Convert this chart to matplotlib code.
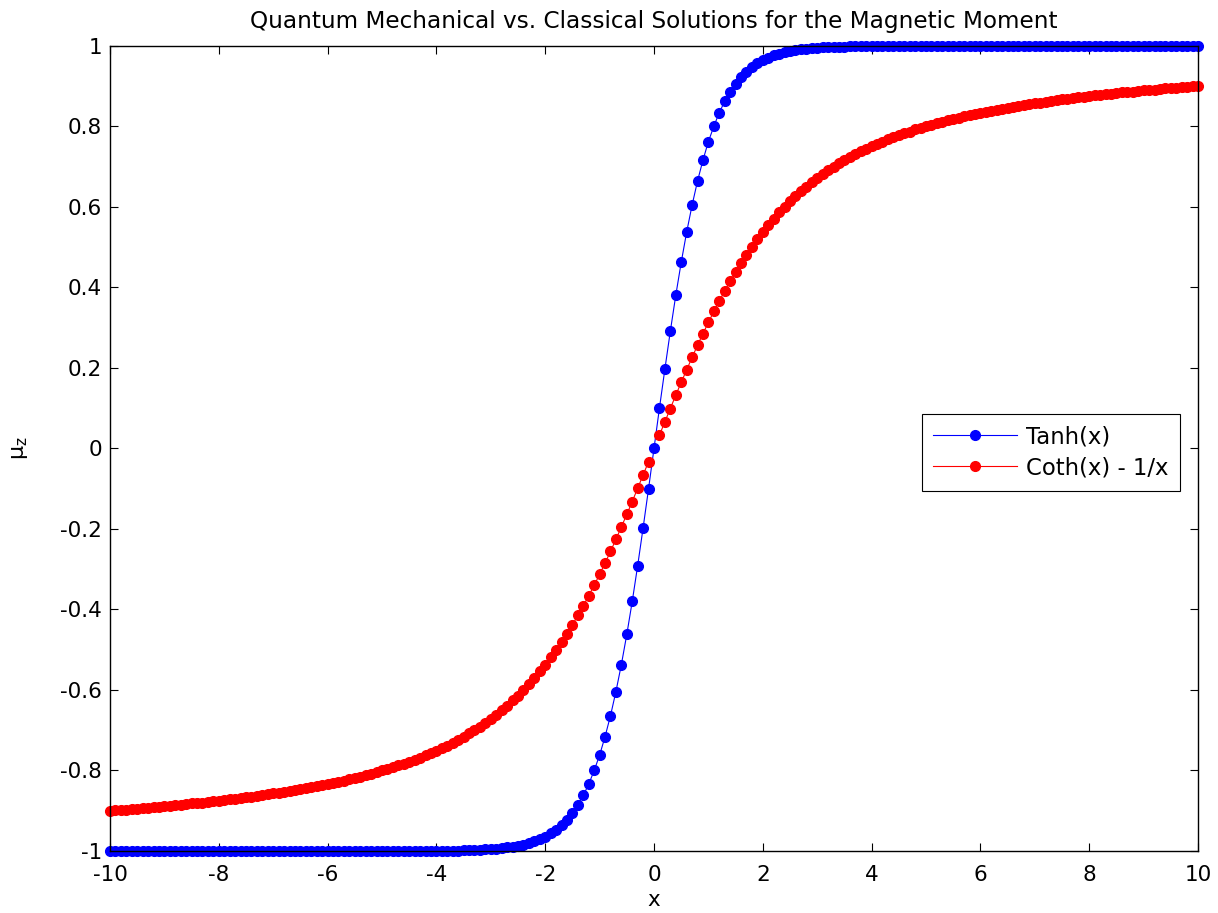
import numpy as np
import matplotlib
matplotlib.use("Agg")
import matplotlib.pyplot as plt

plt.rcParams['font.family'] = ['DejaVu Sans']
plt.rcParams['axes.unicode_minus'] = False
plt.rcParams['mathtext.fontset'] = 'dejavusans'

# sample grid, -10 to 10 in steps of 0.1
x = np.linspace(-10, 10, 201)

# quantum (spin 1/2) solution
tanh_vals = [
    -1.0, -1.0, -1.0, -1.0, -1.0, -1.0, -1.0, -1.0, -1.0, -1.0,
    -1.0, -1.0, -1.0, -1.0, -1.0, -1.0, -1.0, -1.0, -1.0, -1.0,
    -1.0, -1.0, -1.0, -1.0, -1.0, -1.0, -1.0, -1.0, -1.0, -1.0,
    -1.0, -1.0, -1.0, -1.0, -1.0, -1.0, -1.0, -1.0, -1.0, -1.0,
    -1.0, -1.0, -1.0, -1.0, -1.0, -1.0, -1.0, -1.0, -1.0, -1.0,
    -1.0, -1.0, -1.0, -1.0, -1.0, -1.0, -0.999, -0.999, -0.999, -0.999,
    -0.999, -0.999, -0.999, -0.999, -0.999, -0.998, -0.998, -0.997, -0.997, -0.996,
    -0.995, -0.994, -0.993, -0.991, -0.989, -0.987, -0.984, -0.980, -0.976, -0.970,
    -0.964, -0.956, -0.947, -0.935, -0.922, -0.905, -0.885, -0.862, -0.834, -0.800,
    -0.762, -0.716, -0.664, -0.604, -0.537, -0.462, -0.380, -0.291, -0.197, -0.100,
    0.0,
    0.100, 0.197, 0.291, 0.380, 0.462, 0.537, 0.604, 0.664, 0.716, 0.762,
    0.800, 0.834, 0.862, 0.885, 0.905, 0.922, 0.935, 0.947, 0.956, 0.964,
    0.970, 0.976, 0.980, 0.984, 0.987, 0.989, 0.991, 0.993, 0.994, 0.995,
    0.996, 0.997, 0.997, 0.998, 0.998, 0.999, 0.999, 0.999, 0.999, 0.999,
    0.999, 0.999, 0.999, 0.999, 1.0, 1.0, 1.0, 1.0, 1.0, 1.0,
    1.0, 1.0, 1.0, 1.0, 1.0, 1.0, 1.0, 1.0, 1.0, 1.0,
    1.0, 1.0, 1.0, 1.0, 1.0, 1.0, 1.0, 1.0, 1.0, 1.0,
    1.0, 1.0, 1.0, 1.0, 1.0, 1.0, 1.0, 1.0, 1.0, 1.0,
    1.0, 1.0, 1.0, 1.0, 1.0, 1.0, 1.0, 1.0, 1.0, 1.0,
    1.0, 1.0, 1.0, 1.0, 1.0, 1.0, 1.0, 1.0, 1.0, 1.0,
]

# classical (Langevin) solution, undefined at x = 0
langevin_vals = [
    -0.900, -0.899, -0.898, -0.897, -0.896, -0.895, -0.894, -0.892, -0.891, -0.890,
    -0.889, -0.888, -0.886, -0.885, -0.884, -0.882, -0.881, -0.880, -0.878, -0.877,
    -0.875, -0.873, -0.872, -0.870, -0.868, -0.867, -0.865, -0.863, -0.861, -0.859,
    -0.857, -0.855, -0.853, -0.851, -0.848, -0.846, -0.844, -0.841, -0.839, -0.836,
    -0.833, -0.831, -0.828, -0.825, -0.821, -0.818, -0.815, -0.811, -0.808, -0.804,
    -0.800, -0.796, -0.792, -0.787, -0.783, -0.778, -0.773, -0.768, -0.762, -0.757,
    -0.751, -0.744, -0.738, -0.731, -0.724, -0.716, -0.708, -0.700, -0.691, -0.681,
    -0.672, -0.661, -0.650, -0.639, -0.626, -0.614, -0.600, -0.586, -0.570, -0.554,
    -0.537, -0.519, -0.501, -0.481, -0.460, -0.438, -0.415, -0.391, -0.366, -0.340,
    -0.313, -0.285, -0.256, -0.226, -0.195, -0.164, -0.132, -0.099, -0.066, -0.033,
    np.nan,
    0.033, 0.066, 0.099, 0.132, 0.164, 0.195, 0.226, 0.256, 0.285, 0.313,
    0.340, 0.366, 0.391, 0.415, 0.438, 0.460, 0.481, 0.501, 0.519, 0.537,
    0.554, 0.570, 0.586, 0.600, 0.614, 0.626, 0.639, 0.650, 0.661, 0.672,
    0.681, 0.691, 0.700, 0.708, 0.716, 0.724, 0.731, 0.738, 0.744, 0.751,
    0.757, 0.762, 0.768, 0.773, 0.778, 0.783, 0.787, 0.792, 0.796, 0.800,
    0.804, 0.808, 0.811, 0.815, 0.818, 0.821, 0.825, 0.828, 0.831, 0.833,
    0.836, 0.839, 0.841, 0.844, 0.846, 0.848, 0.851, 0.853, 0.855, 0.857,
    0.859, 0.861, 0.863, 0.865, 0.867, 0.868, 0.870, 0.872, 0.873, 0.875,
    0.877, 0.878, 0.880, 0.881, 0.882, 0.884, 0.885, 0.886, 0.888, 0.889,
    0.890, 0.891, 0.892, 0.894, 0.895, 0.896, 0.897, 0.898, 0.899, 0.900,
]

xticks = [-10, -8, -6, -4, -2, 0, 2, 4, 6, 8, 10]
yticks = [-1, -0.8, -0.6, -0.4, -0.2, 0, 0.2, 0.4, 0.6, 0.8, 1]
ytick_labels = ['-1', '-0.8', '-0.6', '-0.4', '-0.2', '0', '0.2', '0.4', '0.6', '0.8', '1']

fig = plt.figure(figsize=(12.18, 9.13), dpi=100)
ax = fig.add_axes([0.0903, 0.0679, 0.8933, 0.882])

ax.plot(x, tanh_vals, '-o', color='blue', lw=0.8, ms=7, label='Tanh(x)', clip_on=False)
ax.plot(x, langevin_vals, '-o', color='red', lw=0.8, ms=7, label='Coth(x) - 1/x', clip_on=False)

ax.set_xlim(-10, 10)
ax.set_ylim(-1, 1)
ax.set_xticks(xticks)
ax.set_yticks(yticks)
ax.set_yticklabels(ytick_labels)
ax.tick_params(direction='in', top=True, right=True, length=6, width=0.8, labelsize=15.5)
ax.tick_params(axis='x', pad=10)
ax.tick_params(axis='y', pad=5.5)
for s in ax.spines.values():
    s.set_linewidth(1.0)

ax.set_title('Quantum Mechanical vs. Classical Solutions for the Magnetic Moment',
             fontsize=16.7, pad=13)
ax.set_xlabel('x', fontsize=15.5, labelpad=4)
ax.set_ylabel(r'$\mathregular{\mu_z}$', fontsize=16, labelpad=22)

leg = ax.legend(loc='upper left', bbox_to_anchor=(0.746, 0.5427), borderaxespad=0,
                fontsize=16.4, handlelength=3.7, handletextpad=0.4, fancybox=False,
                framealpha=1, edgecolor='black', borderpad=0.5, labelspacing=0.35)
leg.get_frame().set_linewidth(0.8)

fig.savefig('out.png', dpi=100)
